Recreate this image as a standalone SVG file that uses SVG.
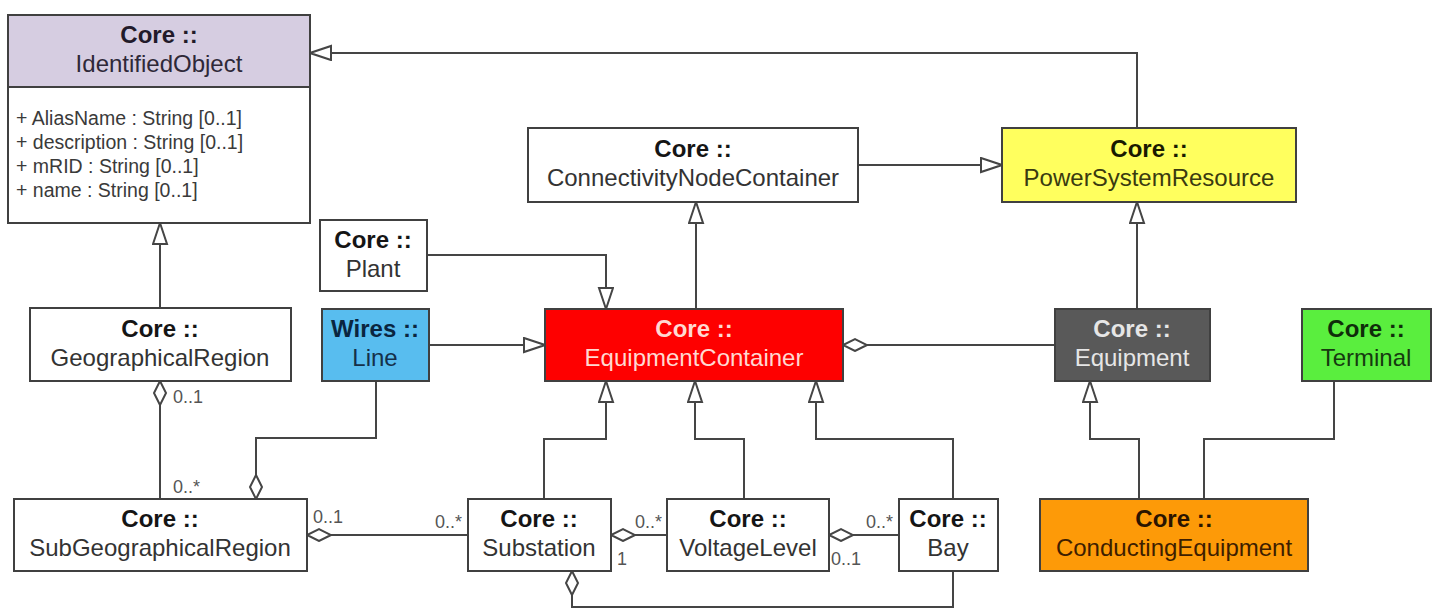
<svg xmlns="http://www.w3.org/2000/svg" width="1439" height="610" viewBox="0 0 1439 610">
<style>
  text { font-family: "Liberation Sans", Arial, sans-serif; }
  .box { stroke: #404040; stroke-width: 2; }
  .t1 { font-size: 24px; font-weight: bold; text-anchor: middle; }
  .t2 { font-size: 24px; text-anchor: middle; }
  .attr { font-size: 19.5px; fill: #3a3a3a; }
  .mult { font-size: 18px; fill: #555; }
  .conn path { fill: none; stroke: #454545; stroke-width: 2; }
  .gen { marker-end: url(#gen); }
  .agg { marker-end: url(#agg); }
</style>
<defs>
  <marker id="gen" markerUnits="userSpaceOnUse" viewBox="0 0 24 18" markerWidth="24" markerHeight="18" refX="22" refY="8" orient="auto">
    <path d="M1,1 L22,8 L1,15 Z" fill="#fff" stroke="#454545" stroke-width="2"/>
  </marker>
  <marker id="agg" markerUnits="userSpaceOnUse" viewBox="0 0 28 16" markerWidth="28" markerHeight="16" refX="25" refY="7" orient="auto">
    <path d="M1,7 L13,1 L25,7 L13,13 Z" fill="#fff" stroke="#454545" stroke-width="2"/>
  </marker>
</defs>
<rect width="1439" height="610" fill="#fff"/>

<g id="connectors" class="conn">
  <path class="gen" d="M1137,128 V53 H310"/>
  <path class="gen" d="M858,165 H1002"/>
  <path class="gen" d="M160,308 V223"/>
  <path class="gen" d="M427,255 H606 V309"/>
  <path class="gen" d="M429,345 H545"/>
  <path class="gen" d="M696,309 V202"/>
  <path class="gen" d="M1137,309 V202"/>
  <path class="agg" d="M1055,345 H843"/>
  <path class="gen" d="M544,499 V439 H606 V381"/>
  <path class="gen" d="M744,499 V439 H695 V381"/>
  <path class="gen" d="M953,499 V439 H816 V381"/>
  <path class="gen" d="M1139,499 V439 H1090 V381"/>
  <path d="M1204,499 V439 H1334 V381"/>
  <path class="agg" d="M160,499 V381"/>
  <path class="agg" d="M376,381 V438 H256 V499"/>
  <path class="agg" d="M468,535 H307"/>
  <path class="agg" d="M667,535 H611"/>
  <path class="agg" d="M899,535 H829"/>
  <path class="agg" d="M953,571 V607 H572 V571"/>
</g>

<g id="labels">
  <text class="mult" x="173" y="403">0..1</text>
  <text class="mult" x="173" y="493">0..*</text>
  <text class="mult" x="313" y="523">0..1</text>
  <text class="mult" x="435" y="528">0..*</text>
  <text class="mult" x="635" y="528">0..*</text>
  <text class="mult" x="617" y="565">1</text>
  <text class="mult" x="866" y="528">0..*</text>
  <text class="mult" x="831" y="565">0..1</text>
</g>

<g id="IdentifiedObject">
  <rect class="box" x="8" y="15" width="302" height="208" fill="#fff"/>
  <rect class="box" x="8" y="15" width="302" height="72" fill="#d6cde1"/>
  <text class="t1" x="159" y="43" style="fill:#221a2a">Core ::</text>
  <text class="t2" x="159" y="72" style="fill:#2e2838">IdentifiedObject</text>
  <text class="attr" x="16" y="125">+ AliasName : String [0..1]</text>
  <text class="attr" x="16" y="149">+ description : String [0..1]</text>
  <text class="attr" x="16" y="173">+ mRID : String [0..1]</text>
  <text class="attr" x="16" y="197">+ name : String [0..1]</text>
</g>

<g id="ConnectivityNodeContainer">
  <rect class="box" x="528" y="128" width="330" height="74" fill="#fff"/>
  <text class="t1" x="693" y="157" style="fill:#151515">Core ::</text>
  <text class="t2" x="693" y="186" style="fill:#333">ConnectivityNodeContainer</text>
</g>

<g id="PowerSystemResource">
  <rect class="box" x="1002" y="128" width="294" height="74" fill="#ffff5e"/>
  <text class="t1" x="1149" y="157" style="fill:#1a1a00">Core ::</text>
  <text class="t2" x="1149" y="186" style="fill:#3a3a10">PowerSystemResource</text>
</g>

<g id="Plant">
  <rect class="box" x="320" y="220" width="107" height="71" fill="#fff"/>
  <text class="t1" x="373" y="248" style="fill:#151515">Core ::</text>
  <text class="t2" x="373" y="277" style="fill:#333">Plant</text>
</g>

<g id="GeographicalRegion">
  <rect class="box" x="30" y="308" width="261" height="73" fill="#fff"/>
  <text class="t1" x="160" y="337" style="fill:#151515">Core ::</text>
  <text class="t2" x="160" y="366" style="fill:#333">GeographicalRegion</text>
</g>

<g id="Line">
  <rect class="box" x="322" y="309" width="107" height="72" fill="#58bdef"/>
  <text class="t1" x="375" y="337" style="fill:#0a2540">Wires ::</text>
  <text class="t2" x="375" y="366" style="fill:#15304a">Line</text>
</g>

<g id="EquipmentContainer">
  <rect class="box" x="545" y="309" width="298" height="72" fill="#fe0000"/>
  <text class="t1" x="694" y="337" style="fill:#ffd9d2">Core ::</text>
  <text class="t2" x="694" y="366" style="fill:#ffd9d2">EquipmentContainer</text>
</g>

<g id="Equipment">
  <rect class="box" x="1055" y="309" width="155" height="72" fill="#595959"/>
  <text class="t1" x="1132" y="337" style="fill:#e6e6e6">Core ::</text>
  <text class="t2" x="1132" y="366" style="fill:#e6e6e6">Equipment</text>
</g>

<g id="Terminal">
  <rect class="box" x="1302" y="309" width="129" height="72" fill="#5aee3e"/>
  <text class="t1" x="1366" y="337" style="fill:#0f2d0a">Core ::</text>
  <text class="t2" x="1366" y="366" style="fill:#163a10">Terminal</text>
</g>

<g id="SubGeographicalRegion">
  <rect class="box" x="14" y="499" width="293" height="72" fill="#fff"/>
  <text class="t1" x="160" y="527" style="fill:#151515">Core ::</text>
  <text class="t2" x="160" y="556" style="fill:#333">SubGeographicalRegion</text>
</g>

<g id="Substation">
  <rect class="box" x="468" y="499" width="143" height="72" fill="#fff"/>
  <text class="t1" x="539" y="527" style="fill:#151515">Core ::</text>
  <text class="t2" x="539" y="556" style="fill:#333">Substation</text>
</g>

<g id="VoltageLevel">
  <rect class="box" x="667" y="499" width="162" height="72" fill="#fff"/>
  <text class="t1" x="748" y="527" style="fill:#151515">Core ::</text>
  <text class="t2" x="748" y="556" style="fill:#333">VoltageLevel</text>
</g>

<g id="Bay">
  <rect class="box" x="899" y="499" width="99" height="72" fill="#fff"/>
  <text class="t1" x="948" y="527" style="fill:#151515">Core ::</text>
  <text class="t2" x="948" y="556" style="fill:#333">Bay</text>
</g>

<g id="ConductingEquipment">
  <rect class="box" x="1040" y="499" width="268" height="72" fill="#fd9a08"/>
  <text class="t1" x="1174" y="527" style="fill:#2a1400">Core ::</text>
  <text class="t2" x="1174" y="556" style="fill:#3e1e00">ConductingEquipment</text>
</g>
</svg>
